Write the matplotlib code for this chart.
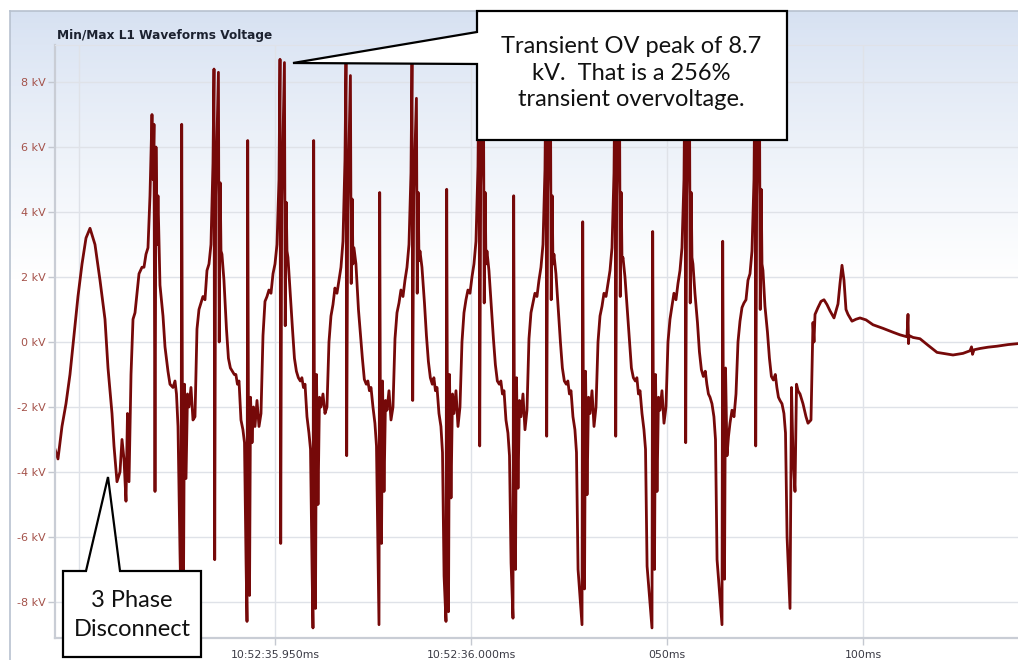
import numpy as np
import matplotlib
matplotlib.use("Agg")
import matplotlib.pyplot as plt
from matplotlib.patches import Polygon

# time in ms after 10:52:35.900, voltage in kV
lead_ms = [-6.12, -5.36, -4.34, -3.32, -2.30, -1.28, -0.26, 0.77, 1.79, 2.81,
           4.08, 5.36, 6.63, 7.40, 8.42, 8.93, 9.69, 10.46, 10.97, 11.48,
           11.99, 12.37, 12.76, 13.27, 13.78, 14.29, 14.80, 15.31, 16.07, 16.58,
           17.09, 17.60, 18.11, 18.62, 18.88, 19.13, 19.39, 19.64, 19.90, 20.15,
           20.66, 21.43, 21.94, 22.70, 23.21, 23.98, 24.49, 24.87, 25.26, 25.77]
lead_kv = [-3.3, -3.6, -2.6, -1.9, -1.0, 0.2, 1.4, 2.4, 3.2, 3.5,
           3.0, 1.9, 0.7, -0.8, -2.2, -3.2, -4.3, -4.0, -3.0, -3.6,
           -4.9, -2.2, -4.3, -1.0, 0.7, 0.9, 1.5, 2.1, 2.3, 2.3,
           2.7, 2.9, 4.5, 7.0, 5.0, 6.7, -4.6, 6.0, 3.0, 4.5,
           1.75, 0.8, -0.15, -0.9, -1.3, -1.4, -1.2, -1.6, -2.6, -6.5]

# each cycle is read from its negative spike onwards
cycle_start_ms = [26.02, 42.86, 59.69, 76.53, 93.62, 110.71, 128.32, 146.17, 164.03]
cycle_offset_ms = [0.0, 0.18, 0.38, 0.64, 0.9, 1.28, 1.66, 2.04, 2.55, 3.06,
                   3.57, 4.08, 4.59, 5.1, 5.6, 6.12, 6.63, 7.14, 7.65, 8.16,
                   8.42, 8.6, 8.85, 9.55, 9.75, 10.0, 10.2, 10.45, 10.96, 11.6,
                   12.1, 12.6, 13.1, 13.6, 14.0, 14.4, 14.8, 15.3, 15.8, 16.2, 16.6]

cyc1_kv = [-8.0, 6.7, -3.0, -7.5, -1.3, -4.2, -1.6, -2.0, -1.4, -2.4,
           -2.3, 0.4, 1.0, 1.2, 1.4, 1.3, 2.2, 2.4, 3.0, 5.5,
           8.4, -6.7, 4.5, 8.3, 0.0, 4.9, 2.8, 2.7, 1.9, 0.4,
           -0.5, -0.8, -0.9, -1.0, -1.0, -1.3, -1.2, -2.4, -2.7, -3.1, -6.8]
cyc2_kv = [-8.6, 6.2, -3.1, -7.8, -1.7, -3.1, -2.0, -2.6, -1.8, -2.6,
           -2.2, 0.2, 1.25, 1.4, 1.6, 1.5, 2.1, 2.4, 3.0, 5.0,
           8.7, -6.2, 4.2, 8.6, 0.5, 4.3, 2.8, 2.6, 1.6, 0.4,
           -0.5, -0.9, -1.1, -1.2, -1.1, -1.4, -1.3, -2.3, -2.8, -3.3, -7.0]
cyc3_kv = [-8.8, 6.2, -3.0, -8.2, -1.0, -5.0, -1.7, -2.0, -1.6, -2.2,
           -2.0, 0.0, 0.8, 1.15, 1.66, 1.5, 1.9, 2.3, 3.1, 5.6,
           8.6, -3.5, 4.0, 8.2, 1.8, 4.4, 2.4, 2.9, 2.4, 1.0,
           0.25, -0.5, -1.15, -1.3, -1.2, -1.5, -1.4, -2.0, -2.5, -3.2, -6.6]
cyc4_kv = [-8.7, 4.6, -3.2, -6.2, -1.2, -4.6, -1.8, -2.1, -1.5, -2.4,
           -2.0, 0.1, 0.9, 1.2, 1.6, 1.4, 1.9, 2.3, 3.0, 5.2,
           8.6, -1.8, 4.5, 7.5, 1.5, 4.6, 2.5, 2.8, 2.3, 1.2,
           0.2, -0.6, -1.1, -1.3, -1.1, -1.5, -1.4, -2.2, -2.6, -3.4, -7.2]
cyc5_kv = [-8.6, 4.7, -3.0, -8.3, -1.0, -4.8, -1.6, -2.2, -1.5, -2.6,
           -2.0, 0.0, 0.9, 1.3, 1.6, 1.5, 2.0, 2.4, 3.1, 5.4,
           8.6, -3.2, 4.8, 8.0, 1.2, 4.6, 2.4, 2.8, 2.2, 1.0,
           0.1, -0.7, -1.2, -1.3, -1.2, -1.6, -1.5, -2.4, -2.8, -3.5, -6.8]
cyc6_kv = [-8.5, 4.5, -3.3, -7.0, -1.1, -4.5, -1.8, -2.3, -1.6, -2.7,
           -2.1, 0.1, 0.9, 1.2, 1.5, 1.4, 1.9, 2.3, 3.0, 5.3,
           8.6, -2.9, 4.6, 8.1, 1.3, 4.5, 2.4, 2.7, 2.1, 0.9,
           0.0, -0.8, -1.2, -1.3, -1.2, -1.6, -1.5, -2.3, -2.7, -3.4, -7.0]
cyc7_kv = [-8.7, 3.7, -3.1, -7.6, -0.9, -4.7, -1.7, -2.2, -1.5, -2.6,
           -2.0, 0.0, 0.8, 1.1, 1.5, 1.4, 1.8, 2.2, 2.9, 5.2,
           8.6, -2.9, 4.5, 8.2, 1.4, 4.6, 2.5, 2.6, 2.0, 0.9,
           0.0, -0.8, -1.1, -1.2, -1.1, -1.6, -1.5, -2.2, -2.7, -3.3, -6.9]
cyc8_kv = [-8.8, 3.4, -3.0, -7.0, -1.0, -4.6, -1.7, -2.1, -1.5, -2.5,
           -2.0, 0.0, 0.7, 1.1, 1.5, 1.3, 1.8, 2.2, 2.9, 5.0,
           8.6, -3.1, 4.5, 8.3, 1.2, 4.6, 2.6, 2.4, 1.5, 0.6,
           -0.3, -0.85, -1.06, -0.9, -1.3, -1.6, -1.7, -1.9, -2.3, -3.0, -6.7]
cyc9_kv = [-8.7, 3.1, -3.0, -7.3, -0.8, -3.5, -2.9, -2.5, -2.1, -2.3,
           -1.6, 0.0, 0.64, 1.06, 1.2, 1.3, 1.9, 2.1, 2.8, 5.0,
           8.6, -3.2, 4.5, 8.2, 1.0, 4.7, 2.4, 2.2, 1.1, 0.3,
           -0.5, -1.06, -1.17, -1.0, -1.4, -1.7, -1.8, -1.9, -2.2, -2.8, -6.0]
cycles_kv = [cyc1_kv, cyc2_kv, cyc3_kv, cyc4_kv, cyc5_kv, cyc6_kv, cyc7_kv, cyc8_kv, cyc9_kv]

tail_ms = [181.38, 181.76, 182.14, 182.65, 183.04, 183.42, 183.93, 184.69, 185.46, 185.97,
           186.73, 187.24, 187.50, 187.76, 188.52, 189.29, 190.05, 190.82, 191.58, 192.60,
           193.62, 194.13, 194.64, 195.15, 195.66, 196.17, 197.19, 198.21, 199.23, 200.77,
           202.55, 205.10, 207.65, 209.44, 211.22, 211.48, 211.61, 211.73, 212.76, 214.54,
           216.58, 218.88, 221.43, 222.96, 225.51, 227.30, 227.68, 227.93, 228.32, 229.85,
           231.89, 234.18, 236.99, 239.54]
tail_kv = [-8.2, -1.4, -3.5, -4.6, -1.3, -1.5, -1.6, -1.9, -2.3, -2.5,
           -2.4, 0.6, 0.0, 0.85, 1.06, 1.25, 1.3, 1.15, 0.96, 0.74,
           1.17, 1.8, 2.36, 1.9, 1.0, 0.85, 0.64, 0.7, 0.74, 0.68,
           0.53, 0.42, 0.3, 0.22, 0.16, 0.85, -0.05, 0.2, 0.14, 0.1,
           -0.1, -0.32, -0.37, -0.4, -0.35, -0.27, -0.15, -0.38, -0.24, -0.2,
           -0.16, -0.13, -0.08, -0.05]

y_ticks = [-8, -6, -4, -2, 0, 2, 4, 6, 8]
x_ticks = [0, 50, 100, 150, 200]
x_labels = ['', '10:52:35.950ms', '10:52:36.000ms', '050ms', '100ms']

t = list(lead_ms)
v = list(lead_kv)
for start, kv in zip(cycle_start_ms, cycles_kv):
    t += [start + o for o in cycle_offset_ms]
    v += kv
t += tail_ms
v += tail_kv

W, H = 1018, 660
fig = plt.figure(figsize=(W / 100, H / 100), dpi=100)

# panel background with soft blue gradient at the top
bg = fig.add_axes([0, 0, 1, 1])
bg.set_xlim(0, W)
bg.set_ylim(H, 0)
bg.axis('off')
top = np.array([0.84, 0.882, 0.948])
grad = np.linspace(0, 1, 256)[:, None]
img = top + (1 - top) * grad ** 0.85
bg.imshow(img[:, None, :].repeat(2, axis=1), extent=(10, W, 280, 11), aspect='auto', zorder=0)
bg.plot([10, 10], [11, H], color='#b7c1cf', lw=1.2)
bg.plot([10, W], [11, 11], color='#b7c1cf', lw=1.2)
bg.set_zorder(0)

ax = fig.add_axes([55 / W, (H - 638) / H, (W - 55) / W, (638 - 45) / H])
ax.set_zorder(2)
ax.patch.set_alpha(0)
ax.plot(t, v, color='#760909', lw=2.0, solid_joinstyle='round')
ax.set_xlim(-6.12, 239.54)
ax.set_ylim(-9.11, 9.14)
ax.set_yticks(y_ticks)
ax.set_yticklabels([f'{y} kV' for y in y_ticks], color='#a4524a', fontsize=8)
ax.set_xticks(x_ticks)
ax.set_xticklabels(x_labels, color='#3a3a44', fontsize=7.8)
ax.grid(True, color='#dfe2e8', lw=1)
ax.set_axisbelow(True)
ax.tick_params(axis='both', length=5, color='#c4c8d0', width=1)
ax.tick_params(axis='y', pad=2)
ax.tick_params(axis='x', pad=4)
for side in ['left', 'bottom']:
    ax.spines[side].set_color('#c9cdd5')
    ax.spines[side].set_linewidth(1.6)
ax.spines['top'].set_color('#dfe2e8')
ax.spines['right'].set_visible(False)

# annotation layer in pixel coordinates
ov = fig.add_axes([0, 0, 1, 1])
ov.set_zorder(3)
ov.set_xlim(0, W)
ov.set_ylim(H, 0)
ov.axis('off')
ov.patch.set_alpha(0)

ov.text(57, 35, 'Min/Max L1 Waveforms Voltage', fontsize=8.7, fontweight='bold',
        color='#1c2230', ha='left', va='center')

box1 = [(477, 11), (787, 11), (787, 140), (477, 140), (477, 64), (293, 63), (477, 32)]
ov.add_patch(Polygon(box1, closed=True, facecolor='white', edgecolor='black',
                     lw=1.6, joinstyle='miter'))
ov.text(631, 73, 'Transient OV peak of 8.7\nkV.  That is a 256%\ntransient overvoltage.',
        ha='center', va='center', fontsize=17, family=['Lato', 'DejaVu Sans'],
        color='#111111', linespacing=1.32)

box2 = [(63, 571), (86, 571), (108, 477), (120, 571), (201, 571), (201, 657), (63, 657)]
ov.add_patch(Polygon(box2, closed=True, facecolor='white', edgecolor='black',
                     lw=1.6, joinstyle='miter'))
ov.text(132, 615, '3 Phase\nDisconnect', ha='center', va='center', fontsize=17,
        family=['Lato', 'DejaVu Sans'], color='#111111', linespacing=1.45)

fig.savefig('out.png', dpi=100)
